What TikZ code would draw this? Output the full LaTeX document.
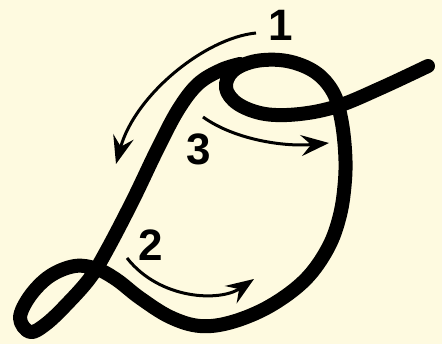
\documentclass[tikz,border=0pt]{standalone}
\usepackage{fontspec}
\setmainfont{Liberation Sans}
\usetikzlibrary{arrows.meta}
\definecolor{bgc}{HTML}{FEFAE0}
\begin{document}
\begin{tikzpicture}[x=1pt,y=-1pt,
  rope/.style={line width=14pt,line cap=round,line join=round},
  flow/.style={line width=3pt,-{Stealth[length=28pt,width=21pt,inset=10pt]}},
  lbl/.style={inner sep=0pt,font=\fontsize{44}{44}\selectfont\bfseries}]
\fill[bgc] (0,0) rectangle (442,344);
\useasboundingbox (0,0) rectangle (442,344);
\draw[rope] plot[smooth,tension=0.6] coordinates {
 (428,66) (381,88) (338,106) (300,114) (265,114) (238,104) (226,88) (233,71)
 (256,61) (287,61) (315,72) (333,92) (341,118) (345,150) (345,180) (340,215)
 (328,248) (305,280) (270,306) (232,322) (200,326) (170,317) (140,298)
 (117,280) (97,269) (75,266) (50,276) (30,296) (20,318) (30,332) (46,324)
 (67,304) (90,278) (107,250) (133,200) (157,150) (178,110) (198,84) (221,70) (240,64)};
\coordinate (a1s) at (256,33);
\coordinate (a1e) at (116,164);
\coordinate (a2s) at (127,258);
\coordinate (a2e) at (254,279);
\coordinate (a3s) at (203,117);
\coordinate (a3e) at (329,143);
\draw[flow] (a1s) .. controls (205,38) and (135,95) .. (a1e);
\draw[flow] (a2s) .. controls (160,300) and (220,302) .. (a2e);
\draw[flow] (a3s) .. controls (235,140) and (285,147) .. (a3e);
\node[lbl] (n1) at (281,25) {1};
\node[lbl] (n2) at (151,245) {2};
\node[lbl] (n3) at (199,149) {3};
\end{tikzpicture}
\end{document}
